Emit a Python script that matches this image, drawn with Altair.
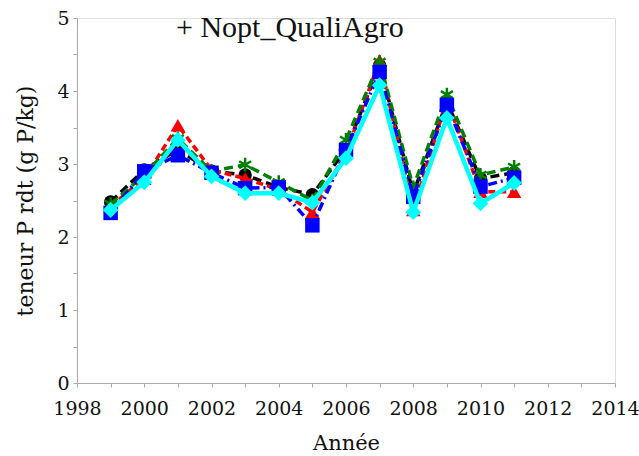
import altair as alt
import pandas as pd

years = list(range(1999, 2012))
black = [2.48, 2.92, 3.2, 2.9, 2.85, 2.68, 2.58, 3.2, 4.35, 2.6, 3.85, 2.8, 2.88]
red = [2.42, 2.8, 3.53, 2.92, 2.8, 2.65, 2.34, 3.15, 4.42, 2.37, 3.88, 2.62, 2.62]
green = [2.45, 2.85, 3.35, 2.9, 2.99, 2.75, 2.5, 3.33, 4.4, 2.68, 3.95, 2.85, 2.96]
blue = [2.33, 2.9, 3.12, 2.88, 2.67, 2.68, 2.16, 3.19, 4.26, 2.55, 3.81, 2.69, 2.81]
cyan = [2.37, 2.75, 3.33, 2.83, 2.6, 2.6, 2.47, 3.08, 4.08, 2.34, 3.63, 2.46, 2.74]

x_ticks = list(range(1998, 2015))
y_ticks = [i * 0.5 for i in range(11)]
annotation = "+ Nopt_QualiAgro"

FONT = "DejaVu Serif"
TFONT = "Liberation Serif"

xscale = alt.Scale(domain=[1998, 2014], nice=False, zero=False)
yscale = alt.Scale(domain=[0, 5], nice=False)

xaxis = alt.Axis(values=x_ticks, labelExpr="datum.value % 2 == 0 ? datum.value : ''",
                 title="Année", grid=False, format="d", labelFont=FONT, titleFont=FONT,
                 labelFontSize=19, titleFontSize=21, titleFontWeight="normal",
                 labelColor="#111", titleColor="#111", domainColor="#aaa", tickColor="#aaa",
                 tickSize=4, labelPadding=12, titlePadding=14, labelFlush=False)
yaxis = alt.Axis(values=y_ticks, labelExpr="datum.value % 1 == 0 ? datum.value : ''",
                 title="teneur P rdt (g P/kg)", grid=False, labelFont=FONT, titleFont=FONT,
                 labelFontSize=19, titleFontSize=22, titleFontWeight="normal",
                 labelColor="#111", titleColor="#111", domainColor="#aaa", tickColor="#aaa",
                 tickSize=4, labelPadding=4, titlePadding=19, labelFlush=False)

asterisk = "M0,-1L0,1M-0.87,-0.5L0.87,0.5M-0.87,0.5L0.87,-0.5"

series = [
    (black, "black", [9, 5], 3.5, "circle", True, 180),
    (red, "red", [7, 4], 3.5, "triangle-up", True, 210),
    (green, "green", [9, 5], 3.5, asterisk, False, 190),
    (blue, "blue", [9, 4, 2, 4], 3.5, "square", True, 210),
    (cyan, "cyan", [1, 0], 4.5, "diamond", True, 250),
]

X = lambda: alt.X("year:Q", scale=xscale, axis=xaxis)
Y = lambda: alt.Y("value:Q", scale=yscale, axis=yaxis)

layers = []
for vals, color, dash, sw, shape, filled, size in series:
    df = pd.DataFrame({"year": years, "value": vals})
    base = alt.Chart(df).encode(x=X(), y=Y())
    line = base.mark_line(color=color, strokeDash=dash, strokeWidth=sw)
    if filled:
        pts = base.mark_point(shape=shape, filled=True, color=color, size=size, opacity=1)
    else:
        pts = base.mark_point(shape=shape, filled=False, color=color, size=size,
                              strokeWidth=2.5, opacity=1)
    layers += [line, pts]

ann_df = pd.DataFrame({"year": [2004.33], "value": [4.86], "label": [annotation]})
ann = alt.Chart(ann_df).mark_text(font=TFONT, fontSize=30, color="#111").encode(
    x=X(), y=Y(), text="label:N")
layers.append(ann)

chart = alt.layer(*layers).properties(
    width=538, height=365,
    autosize=alt.AutoSizeParams(type="none"),
    padding={"left": 77, "top": 18, "right": 24, "bottom": 73},
).configure_view(strokeWidth=0).configure(background="white")

chart.save("out.html", embed_options={"renderer": "svg", "actions": False})
